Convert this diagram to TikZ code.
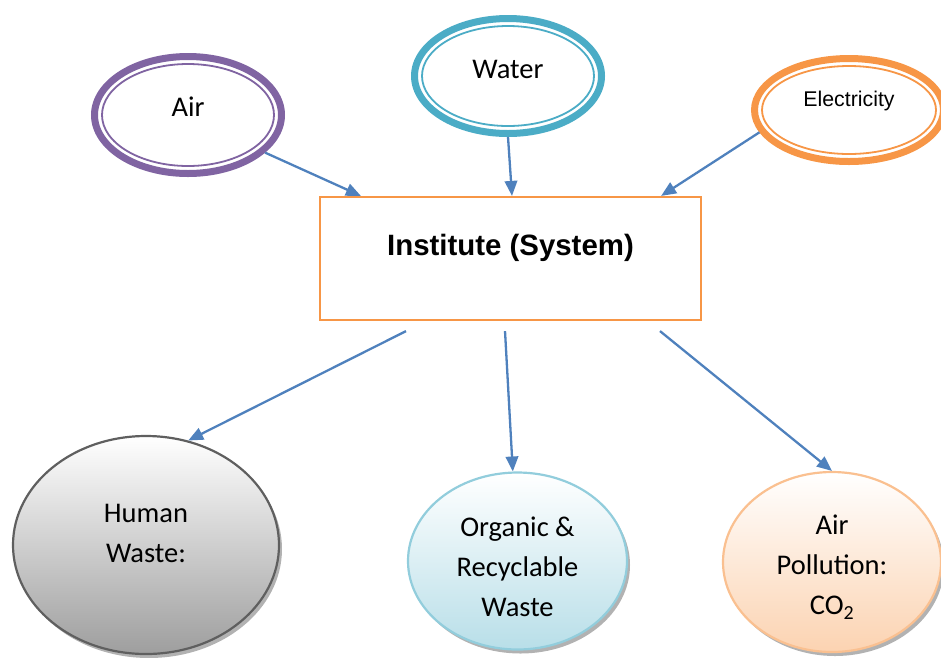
\documentclass[tikz,border=0pt]{standalone}
\usepackage{fontspec}
\setmainfont{Carlito}
\newfontfamily\arialfont{Liberation Sans}
\usetikzlibrary{shapes.geometric,arrows.meta,shadows,calc}
\definecolor{flowblue}{HTML}{4F81BD}
\definecolor{airpurple}{HTML}{8064A2}
\definecolor{waterteal}{HTML}{4BACC6}
\definecolor{powerorange}{HTML}{F79646}
\definecolor{humangray}{HTML}{5F5F5F}
\definecolor{organicblue}{HTML}{92CDDC}
\definecolor{smokepeach}{HTML}{FAC090}
\tikzset{
	inflow/.style={ellipse, draw=#1, line width=7pt, inner sep=0pt, fill=white},
	innerline/.style={draw=#1, line width=1.8pt},
	outflow/.style={ellipse, line width=2.2pt, inner sep=0pt,
		drop shadow={shadow xshift=3pt, shadow yshift=-4pt, opacity=0.3, fill=black}},
	flow/.style={draw=flowblue, line width=2.3pt, -{Triangle[length=15pt,width=12.5pt]}},
	sysbox/.style={rectangle, draw=powerorange, line width=2.2pt, minimum width=381pt, minimum height=123pt},
	wastetext/.style={align=center, font=\fontsize{28.5}{40}\selectfont}
}
\begin{document}
\begin{tikzpicture}[x=1pt, y=-1pt]
	\useasboundingbox (0,0) rectangle (941,657);
	% inputs
	\node[inflow=airpurple, minimum width=187pt, minimum height=117pt,
		label={[name=airtxt, yshift=8pt, font=\fontsize{28.5}{34}\selectfont]center:Air}] (air) at (188,115) {};
	\draw[innerline=airpurple] (air.center) ellipse [x radius=86, y radius=51];
	\node[inflow=waterteal, minimum width=187pt, minimum height=115pt,
		label={[name=watertxt, yshift=7pt, font=\fontsize{28.5}{34}\selectfont]center:Water}] (water) at (508,76) {};
	\draw[innerline=waterteal] (water.center) ellipse [x radius=86, y radius=50];
	\node[inflow=powerorange, minimum width=189pt, minimum height=103pt,
		label={[name=powertxt, yshift=9pt, font=\arialfont\fontsize{21.3}{25}\selectfont]center:Electricity}] (power) at (849,110) {};
	\draw[innerline=powerorange] (power.center) ellipse [x radius=87, y radius=44];
	% system
	\node[sysbox, label={[name=systxt, yshift=11pt, font=\arialfont\bfseries\fontsize{29.4}{34}\selectfont]center:Institute (System)}] (sys) at (510.5,258.5) {};
	% outputs
	\node[outflow, draw=humangray, top color=white, bottom color=black!38, minimum width=266pt, minimum height=218pt,
		label={[name=humantxt, wastetext, yshift=12pt]center:{Human\\Waste:}}] (human) at (146,545) {};
	\node[outflow, draw=organicblue, top color=white, bottom color=organicblue!65, minimum width=219pt, minimum height=177pt,
		label={[name=organictxt, wastetext, yshift=-6pt]center:{Organic \&\\Recyclable\\Waste}}] (organic) at (517.5,561) {};
	\node[outflow, draw=smokepeach, top color=white, bottom color=smokepeach!70, minimum width=218pt, minimum height=180pt,
		label={[name=smoketxt, wastetext, yshift=-5pt]center:{Air\\Pollution:\\CO\textsubscript{2}}}] (smoke) at (832,562) {};
	% connectors
	\draw[flow] (air.-26) -- ($(sys.north west)+(42,0)$);
	\draw[flow] (water.south) -- ($(sys.north)+(1.5,0)$);
	\draw[flow] (power.-166) -- ($(sys.north east)+(-41,0)$);
	\draw[flow] ($(sys.south)+(-104.5,10)$) -- (human.68);
	\draw[flow] ($(sys.south)+(-5.5,10)$) -- (organic.93);
	\draw[flow] ($(sys.south)+(149.5,10)$) -- (smoke.north);
\end{tikzpicture}
\end{document}
